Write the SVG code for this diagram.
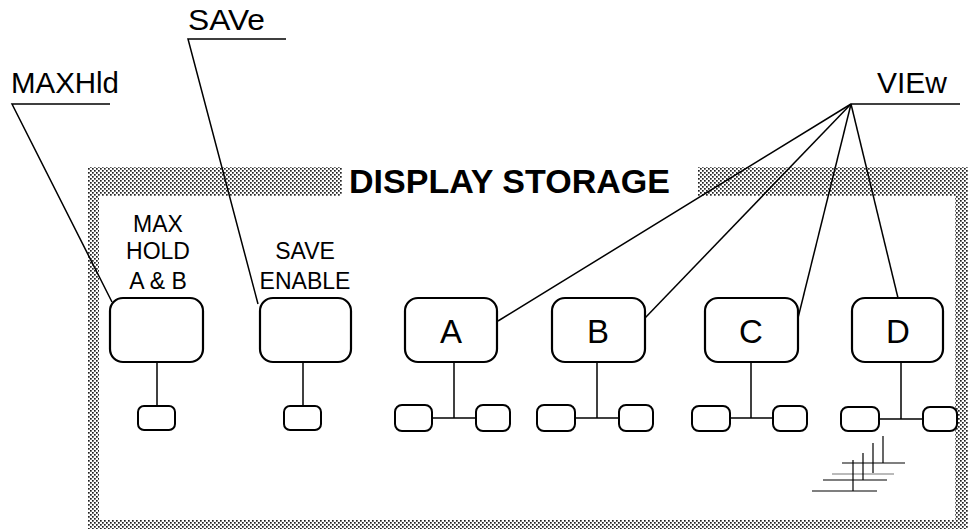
<svg xmlns="http://www.w3.org/2000/svg" width="968" height="529" viewBox="0 0 968 529">
<defs>
<pattern id="dots" width="4" height="4" patternUnits="userSpaceOnUse">
<rect x="0" y="0" width="4" height="4" fill="#fff"/>
<rect x="0" y="0" width="1.7" height="1.7" fill="#222"/>
<rect x="2" y="2" width="1.7" height="1.7" fill="#222"/>
</pattern>
<style>
.t{font-family:"Liberation Sans",Arial,sans-serif;fill:#000}
.box{fill:#fff;stroke:#000;stroke-width:2.2}
.sm{fill:#fff;stroke:#000;stroke-width:2}
.ln{fill:none;stroke:#000;stroke-width:1.5}
.lbl{font-size:23px;text-anchor:middle}
.big{font-size:33px;text-anchor:middle}
.lead{font-size:29px}
</style>
</defs>
<rect width="968" height="529" fill="#fff"/>
<g id="frame">
<rect x="88" y="167" width="880" height="362" fill="url(#dots)"/>
<rect x="99" y="196" width="856" height="324" fill="#fff"/>
<rect x="342" y="166" width="356" height="31" fill="#fff"/>
<text class="t" x="349" y="193" font-size="34" font-weight="bold" textLength="321" lengthAdjust="spacingAndGlyphs">DISPLAY STORAGE</text>
</g>
<g id="connectors">
<polyline class="ln" points="110,104 12,104 112,302"/>
<polyline class="ln" points="286,39 188,39 258,304"/>
<polyline class="ln" points="960,104 851,104"/>
<line class="ln" x1="851" y1="104" x2="498" y2="321"/>
<line class="ln" x1="851" y1="104" x2="645" y2="318"/>
<line class="ln" x1="851" y1="104" x2="798" y2="318"/>
<line class="ln" x1="851" y1="104" x2="898" y2="298"/>
<line class="ln" x1="157" y1="362" x2="157" y2="406"/>
<line class="ln" x1="303" y1="362" x2="303" y2="406"/>
<polyline class="ln" points="454,362 454,418"/>
<line class="ln" x1="432" y1="418" x2="476" y2="418"/>
<polyline class="ln" points="597,362 597,418"/>
<line class="ln" x1="575" y1="418" x2="619" y2="418"/>
<polyline class="ln" points="751,362 751,418"/>
<line class="ln" x1="730" y1="418" x2="773" y2="418"/>
<polyline class="ln" points="901,362 901,419"/>
<line class="ln" x1="879" y1="419" x2="923" y2="419"/>
</g>
<g id="MAXHld"><text class="t lead" x="11" y="93" textLength="108" lengthAdjust="spacingAndGlyphs">MAXHld</text></g>
<g id="SAVe"><text class="t lead" x="188" y="30" textLength="77" lengthAdjust="spacingAndGlyphs">SAVe</text></g>
<g id="VIEw"><text class="t lead" x="877" y="93" textLength="70" lengthAdjust="spacingAndGlyphs">VIEw</text></g>
<g id="maxhold">
<text class="t lbl" x="158" y="232">MAX</text>
<text class="t lbl" x="158" y="259">HOLD</text>
<text class="t lbl" x="158" y="289">A &amp; B</text>
<rect class="box" x="110" y="298" width="93" height="64" rx="13"/>
<rect class="sm" x="138" y="406" width="37" height="24" rx="6"/>
</g>
<g id="save">
<text class="t lbl" x="305" y="259">SAVE</text>
<text class="t lbl" x="305" y="289">ENABLE</text>
<rect class="box" x="260" y="298" width="91" height="64" rx="13"/>
<rect class="sm" x="284" y="406" width="37" height="24" rx="6"/>
</g>
<g id="A">
<rect class="box" x="405" y="298" width="92" height="64" rx="13"/>
<text class="t big" x="451" y="343">A</text>
<rect class="sm" x="395" y="405" width="37" height="26" rx="7"/>
<rect class="sm" x="476" y="405" width="34" height="26" rx="7"/>
</g>
<g id="B">
<rect class="box" x="552" y="298" width="93" height="64" rx="13"/>
<text class="t big" x="598" y="343">B</text>
<rect class="sm" x="537" y="405" width="38" height="26" rx="7"/>
<rect class="sm" x="619" y="405" width="34" height="26" rx="7"/>
</g>
<g id="C">
<rect class="box" x="705" y="298" width="93" height="64" rx="13"/>
<text class="t big" x="751" y="343">C</text>
<rect class="sm" x="692" y="406" width="38" height="25" rx="7"/>
<rect class="sm" x="773" y="406" width="34" height="25" rx="7"/>
</g>
<g id="D">
<rect class="box" x="852" y="298" width="91" height="64" rx="13"/>
<text class="t big" x="898" y="343">D</text>
<rect class="sm" x="841" y="407" width="38" height="24" rx="7"/>
<rect class="sm" x="923" y="407" width="34" height="24" rx="7"/>
</g>
<g id="hatch" fill="none" stroke="#000" stroke-width="1.2">
<line x1="842" y1="463" x2="905" y2="463"/>
<line x1="832" y1="474" x2="894" y2="474" stroke="#777"/>
<line x1="823" y1="480" x2="887" y2="480"/>
<line x1="812" y1="491" x2="877" y2="491"/>
<line x1="883" y1="436" x2="883" y2="463"/>
<line x1="873" y1="443" x2="873" y2="473"/>
<line x1="863" y1="453" x2="863" y2="480"/>
<line x1="853" y1="460" x2="853" y2="491"/>
</g>
</svg>
